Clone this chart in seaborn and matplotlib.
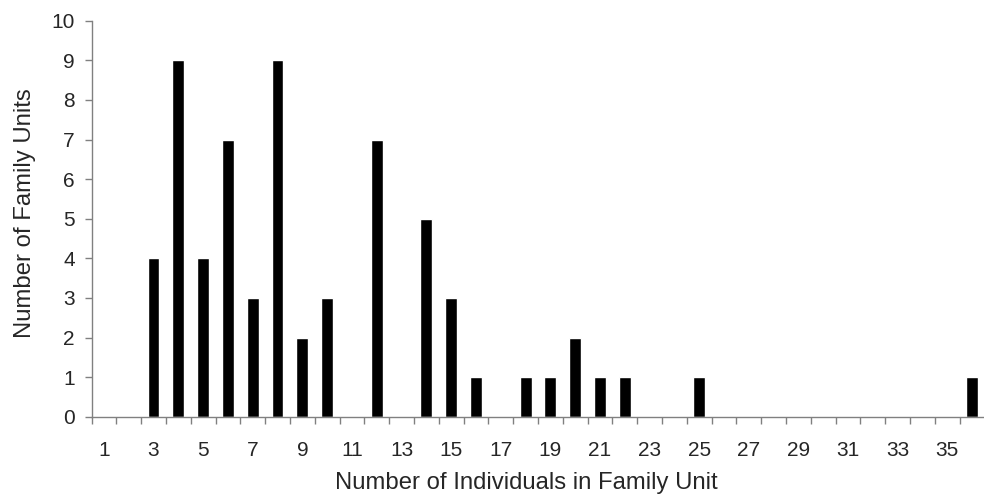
import matplotlib
matplotlib.use("Agg")
import matplotlib.pyplot as plt
from matplotlib import font_manager
import seaborn as sns
import pandas as pd

categories = list(range(1, 37))
counts = [0, 0, 4, 9, 4, 7, 3, 9, 2, 3, 0, 7, 0, 5, 3, 1, 0, 1, 1, 2,
          1, 1, 0, 0, 1, 0, 0, 0, 0, 0, 0, 0, 0, 0, 0, 1]
tick_labels = [str(c) for c in categories]
x_title = "Number of Individuals in Family Unit"
y_title = "Number of Family Units"

sns.set_style("white")
plt.rcParams['font.family'] = ['Liberation Sans', 'DejaVu Sans']

names = {f.name for f in font_manager.fontManager.ttflist}
if 'Liberation Sans Narrow' in names:
    label_font = {'family': ['Liberation Sans Narrow', 'DejaVu Sans'], 'size': 21}
else:
    label_font = {'family': ['Liberation Sans', 'DejaVu Sans'], 'size': 17.2}

df = pd.DataFrame({"size": tick_labels, "count": counts})

fig = plt.figure(figsize=(9.84, 5.04), dpi=100)
ax = fig.add_axes([91.5 / 984, 1 - 416.7 / 504, (984.5 - 91.5) / 984, (416.7 - 20.7) / 504])
sns.barplot(data=df, x="size", y="count", order=tick_labels, color="black",
            width=0.48, saturation=1, ax=ax)

ax.set_xlim(-0.5, len(categories) - 0.5)
ax.set_ylim(0, 10)
ax.set_yticks(range(0, 11))
major = [i for i in range(len(categories)) if i % 2 == 0]
ax.set_xticks(major)
ax.set_xticklabels([tick_labels[i] for i in major])
ax.set_xticks([i - 0.5 for i in range(len(categories) + 1)], minor=True)
ax.tick_params(axis='x', which='major', bottom=True, length=0, pad=17.5, labelsize=15)
ax.tick_params(axis='x', which='minor', bottom=True, length=5, width=1,
               color='#808080', direction='out')
ax.tick_params(axis='y', left=True, length=5, width=1, color='#808080',
               direction='out', labelsize=15, pad=7)

for s in ['top', 'right']:
    ax.spines[s].set_visible(False)
for s in ['left', 'bottom']:
    ax.spines[s].set_color('#808080')
    ax.spines[s].set_linewidth(1)

ax.set_xlabel(x_title, fontdict=label_font)
ax.set_ylabel(y_title, fontdict=label_font)
ax.xaxis.set_label_coords((526 - 91.5) / 893, (416.7 - 472) / 396)
ax.yaxis.set_label_coords((36 - 91.5) / 893, (416.7 - 213) / 396)

fig.savefig("out.png", dpi=100)
